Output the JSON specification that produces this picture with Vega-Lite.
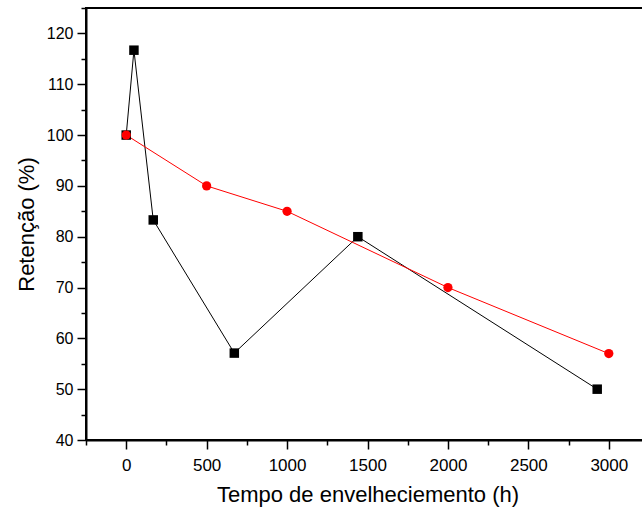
{
  "$schema": "https://vega.github.io/schema/vega-lite/v6.json",
  "autosize": "none",
  "width": 563,
  "height": 432,
  "padding": {"left": 86, "top": 8, "right": 0, "bottom": 72},
  "background": "white",
  "config": {
    "font": "Liberation Sans",
    "view": {"stroke": "black", "strokeWidth": 2}
  },
  "data": {
    "values": [
      {"serie": "A", "tempo": 0, "retencao": 100},
      {"serie": "A", "tempo": 48, "retencao": 116.7},
      {"serie": "A", "tempo": 168, "retencao": 83.3},
      {"serie": "A", "tempo": 672, "retencao": 57.1},
      {"serie": "A", "tempo": 1440, "retencao": 80},
      {"serie": "A", "tempo": 2928, "retencao": 50},
      {"serie": "B", "tempo": 0, "retencao": 100},
      {"serie": "B", "tempo": 500, "retencao": 90},
      {"serie": "B", "tempo": 1000, "retencao": 85},
      {"serie": "B", "tempo": 2000, "retencao": 70},
      {"serie": "B", "tempo": 3000, "retencao": 57}
    ]
  },
  "encoding": {
    "x": {
      "field": "tempo",
      "type": "quantitative",
      "scale": {"domain": [-250, 3250], "nice": false, "zero": false},
      "axis": {
        "title": "Tempo de envelheciemento (h)",
        "titleFontSize": 22,
        "titleFontWeight": "normal",
        "titleColor": "black",
        "titlePadding": 11,
        "values": [-250, 0, 250, 500, 750, 1000, 1250, 1500, 1750, 2000, 2250, 2500, 2750, 3000, 3250],
        "format": "d",
        "labelExpr": "datum.value % 500 === 0 ? datum.label : ''",
        "labelFontSize": 17,
        "labelColor": "black",
        "labelPadding": 8,
        "labelFlush": false,
        "labelOverlap": false,
        "tickSize": {"condition": {"test": "datum.value % 500 === 0", "value": 9}, "value": 5},
        "tickColor": "black",
        "tickWidth": 1.5,
        "domainColor": "black",
        "domainWidth": 2,
        "grid": false
      }
    },
    "y": {
      "field": "retencao",
      "type": "quantitative",
      "scale": {"domain": [40, 125], "nice": false, "zero": false},
      "axis": {
        "title": "Retenção (%)",
        "titleFontSize": 22,
        "titleFontWeight": "normal",
        "titleColor": "black",
        "titlePadding": 8,
        "values": [40, 45, 50, 55, 60, 65, 70, 75, 80, 85, 90, 95, 100, 105, 110, 115, 120, 125],
        "labelExpr": "datum.value % 10 === 0 ? datum.label : ''",
        "labelFontSize": 16,
        "labelColor": "black",
        "labelPadding": 4,
        "labelFlush": false,
        "labelOverlap": false,
        "tickSize": {"condition": {"test": "datum.value % 10 === 0", "value": 9}, "value": 5},
        "tickColor": "black",
        "tickWidth": 1.5,
        "domainColor": "black",
        "domainWidth": 2,
        "grid": false
      }
    },
    "color": {
      "field": "serie",
      "type": "nominal",
      "scale": {"domain": ["A", "B"], "range": ["black", "#ff0000"]},
      "legend": null
    }
  },
  "layer": [
    {"mark": {"type": "line", "strokeWidth": 1}},
    {
      "mark": {"type": "point", "filled": true, "opacity": 1},
      "encoding": {
        "shape": {
          "field": "serie",
          "type": "nominal",
          "scale": {"domain": ["A", "B"], "range": ["square", "circle"]},
          "legend": null
        },
        "size": {
          "field": "serie",
          "type": "nominal",
          "scale": {"domain": ["A", "B"], "range": [90, 85]},
          "legend": null
        }
      }
    }
  ]
}
